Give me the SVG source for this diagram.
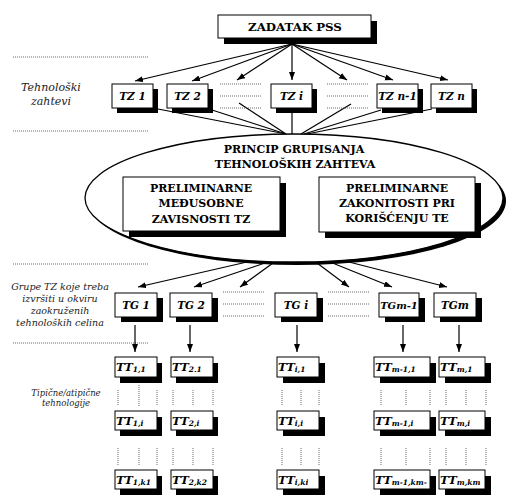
<svg xmlns="http://www.w3.org/2000/svg" width="508" height="495" viewBox="0 0 508 495">
<style>
.bx{fill:#fff;stroke:#000;stroke-width:1}
.sh{fill:#000}
.ln{stroke:#000;stroke-width:1.2;fill:none}
.ar{stroke:#000;stroke-width:1.2;fill:none;marker-end:url(#ah)}
.dot{stroke:#444;stroke-width:0.8;stroke-dasharray:1 1;fill:none}
text{font-family:'DejaVu Serif','Liberation Serif',serif}
.cap{font-weight:bold;font-size:11px;text-anchor:middle;fill:#000}
.lab{font-weight:bold;font-style:italic;font-size:10.5px;text-anchor:middle;fill:#000}
.tt{font-weight:bold;font-style:italic;font-size:11.5px;fill:#000}
.sub{font-size:7.5px}
.side{font-style:italic;text-anchor:middle;fill:#222}
</style>
<defs>
<marker id="ah" markerUnits="userSpaceOnUse" markerWidth="9" markerHeight="7" refX="8" refY="3" orient="auto">
<path d="M0,0 L8,3 L0,6 z" fill="#000"/>
</marker>
</defs>

<!-- side labels and guide lines -->
<g id="side">
<line class="dot" x1="13" y1="57" x2="148" y2="57"/>
<line class="dot" x1="13" y1="131" x2="148" y2="131"/>
<line class="dot" x1="13" y1="264" x2="148" y2="264"/>
<line class="dot" x1="13" y1="343" x2="148" y2="343"/>
<text class="side" style="font-size:11px" x="51" y="91">Tehnološki</text>
<text class="side" style="font-size:11px" x="51" y="105">zahtevi</text>
<text class="side" style="font-size:9.5px" x="60" y="290">Grupe TZ koje treba</text>
<text class="side" style="font-size:9.5px" x="60" y="302">izvršiti u okviru</text>
<text class="side" style="font-size:9.5px" x="60" y="314">zaokruženih</text>
<text class="side" style="font-size:9.5px" x="60" y="326">tehnoloških celina</text>
<text class="side" style="font-size:8.5px" x="66" y="396">Tipične/atipične</text>
<text class="side" style="font-size:8.5px" x="66" y="406">tehnologije</text>
</g>

<!-- connectors -->
<g id="connectors">
<line class="ar" x1="292" y1="44" x2="135" y2="81"/>
<line class="ar" x1="292" y1="44" x2="192" y2="81"/>
<line class="ar" x1="292" y1="44" x2="237" y2="80"/>
<line class="ar" x1="292" y1="44" x2="292" y2="80"/>
<line class="ar" x1="292" y1="44" x2="347" y2="80"/>
<line class="ar" x1="292" y1="44" x2="393" y2="80"/>
<line class="ar" x1="292" y1="44" x2="448" y2="80"/>

<line class="ln" x1="158" y1="109" x2="286" y2="134"/>
<line class="ln" x1="212" y1="110" x2="286" y2="134"/>
<line class="ln" x1="239" y1="103" x2="286" y2="134"/>
<line class="ln" x1="292" y1="112" x2="292" y2="134"/>
<line class="ln" x1="351" y1="104" x2="301" y2="134"/>
<line class="ln" x1="381" y1="110" x2="304" y2="134"/>
<line class="ln" x1="432" y1="109" x2="307" y2="134"/>

<line class="ar" x1="247" y1="262" x2="138" y2="287"/>
<line class="ar" x1="265" y1="263" x2="194" y2="287"/>
<line class="ar" x1="273" y1="263" x2="240" y2="287"/>
<line class="ar" x1="317" y1="263" x2="349" y2="287"/>
<line class="ar" x1="330" y1="262" x2="392" y2="287"/>
<line class="ar" x1="345" y1="261" x2="447" y2="287"/>

<line class="ar" x1="135" y1="325" x2="135" y2="352"/>
<line class="ar" x1="190" y1="325" x2="190" y2="352"/>
<line class="ar" x1="297" y1="325" x2="297" y2="352"/>
<line class="ar" x1="403" y1="325" x2="403" y2="352"/>
<line class="ar" x1="459" y1="325" x2="459" y2="352"/>

<!-- dotted placeholders -->
<path class="dot" d="M220,84 H262 M220,96 H262 M220,108 H262 M327,84 H368 M327,96 H368 M327,108 H368"/>
<path class="dot" d="M223,292 H264 M223,304 H264 M223,316 H264 M328,292 H369 M328,304 H369 M328,316 H369"/>
<path class="dot" d="M118,390 V406 M139,385 V406 M157,390 V406 M173,390 V406 M193,390 V406 M213,390 V406 M282,390 V406 M301,390 V406 M319,390 V406 M381,390 V406 M406,390 V406 M430,390 V406 M446,390 V406 M466,390 V406 M486,390 V406"/>
<path class="dot" d="M118,448 V465 M139,448 V465 M157,448 V465 M173,448 V465 M193,448 V465 M213,448 V465 M282,448 V465 M301,448 V465 M319,448 V465 M381,448 V465 M406,448 V465 M430,448 V465 M446,448 V465 M466,448 V465 M486,448 V465"/>
<path d="M287,215 L296,205 L296,210 L308,210 L308,205 L317,215 L308,225 L308,220 L296,220 L296,225 Z" fill="#fff" stroke="#000" stroke-width="1"/>
</g>

<g id="zadatak">
<rect class="sh" x="224" y="21" width="153" height="23"/>
<rect class="bx" x="218" y="15" width="153" height="23"/>
<text class="cap" style="font-size:11.8px" x="295" y="31">ZADATAK PSS</text>
</g>

<g id="tz1"><rect class="sh" x="117" y="89" width="41" height="24"/><rect class="bx" x="112" y="84" width="41" height="24"/><text class="lab" x="132.5" y="100">TZ 1</text></g>
<g id="tz2"><rect class="sh" x="172" y="89" width="41" height="24"/><rect class="bx" x="167" y="84" width="41" height="24"/><text class="lab" x="187.5" y="100">TZ 2</text></g>
<g id="tzi"><rect class="sh" x="276" y="89" width="41" height="24"/><rect class="bx" x="271" y="84" width="41" height="24"/><text class="lab" x="291.5" y="100">TZ i</text></g>
<g id="tzn1"><rect class="sh" x="382" y="89" width="41" height="24"/><rect class="bx" x="377" y="84" width="41" height="24"/><text class="lab" x="397.5" y="100">TZ n-1</text></g>
<g id="tzn"><rect class="sh" x="436" y="89" width="41" height="24"/><rect class="bx" x="431" y="84" width="41" height="24"/><text class="lab" x="451.5" y="100">TZ n</text></g>

<g id="princip">
<ellipse cx="297" cy="201" rx="209" ry="64" fill="#000"/>
<ellipse cx="294" cy="198" rx="209" ry="64" fill="#fff" stroke="#000" stroke-width="1.3"/>
<text class="cap" x="294" y="153">PRINCIP GRUPISANJA</text>
<text class="cap" x="295" y="168">TEHNOLOŠKIH ZAHTEVA</text>
</g>

<g id="medjusobne">
<rect class="sh" x="129" y="183" width="157" height="54"/>
<rect class="bx" x="123" y="177" width="157" height="54"/>
<text class="cap" x="201" y="192">PRELIMINARNE</text>
<text class="cap" x="201" y="207">MEĐUSOBNE</text>
<text class="cap" x="201" y="223">ZAVISNOSTI TZ</text>
</g>

<g id="zakonitosti">
<rect class="sh" x="325" y="183" width="156" height="55"/>
<rect class="bx" x="319" y="177" width="156" height="55"/>
<text class="cap" x="397" y="192">PRELIMINARNE</text>
<text class="cap" x="397" y="207">ZAKONITOSTI PRI</text>
<text class="cap" x="397" y="222">KORIŠĆENJU TE</text>
</g>

<g id="tg1"><rect class="sh" x="121" y="298" width="42" height="24"/><rect class="bx" x="115" y="293" width="42" height="24"/><text class="lab" x="136" y="309">TG 1</text></g>
<g id="tg2"><rect class="sh" x="176" y="298" width="42" height="24"/><rect class="bx" x="170" y="293" width="42" height="24"/><text class="lab" x="191" y="309">TG 2</text></g>
<g id="tgi"><rect class="sh" x="281" y="298" width="42" height="24"/><rect class="bx" x="275" y="293" width="42" height="24"/><text class="lab" x="296" y="309">TG i</text></g>
<g id="tgm1"><rect class="sh" x="385" y="298" width="40" height="24"/><rect class="bx" x="379" y="293" width="40" height="24"/><text class="lab" style="font-size:10px" x="399" y="309">TGm-1</text></g>
<g id="tgm"><rect class="sh" x="440" y="298" width="42" height="24"/><rect class="bx" x="434" y="293" width="42" height="24"/><text class="lab" x="455" y="309">TGm</text></g>

<g id="tt11"><rect class="sh" x="120" y="363" width="42" height="20"/><rect class="bx" x="115" y="357" width="42" height="20"/><text class="tt" x="116" y="371">TT<tspan class="sub" dy="1">1,1</tspan></text></g>
<g id="tt21"><rect class="sh" x="176" y="363" width="42" height="20"/><rect class="bx" x="171" y="357" width="42" height="20"/><text class="tt" x="172" y="371">TT<tspan class="sub" dy="1">2.1</tspan></text></g>
<g id="tti1"><rect class="sh" x="283" y="363" width="42" height="20"/><rect class="bx" x="277" y="357" width="42" height="20"/><text class="tt" x="278" y="371">TT<tspan class="sub" dy="1">i,1</tspan></text></g>
<g id="ttm11"><rect class="sh" x="380" y="363" width="56" height="20"/><rect class="bx" x="374" y="357" width="56" height="20"/><text class="tt" x="375" y="371">TT<tspan class="sub" dy="1">m-1,1</tspan></text></g>
<g id="ttm1"><rect class="sh" x="445" y="363" width="46" height="20"/><rect class="bx" x="439" y="357" width="46" height="20"/><text class="tt" x="440" y="371">TT<tspan class="sub" dy="1">m,1</tspan></text></g>

<g id="tt1i"><rect class="sh" x="120" y="417" width="42" height="19"/><rect class="bx" x="115" y="411" width="42" height="19"/><text class="tt" x="116" y="425">TT<tspan class="sub" dy="1">1,i</tspan></text></g>
<g id="tt2i"><rect class="sh" x="176" y="417" width="42" height="19"/><rect class="bx" x="171" y="411" width="42" height="19"/><text class="tt" x="172" y="425">TT<tspan class="sub" dy="1">2,i</tspan></text></g>
<g id="ttii"><rect class="sh" x="283" y="417" width="42" height="19"/><rect class="bx" x="277" y="411" width="42" height="19"/><text class="tt" x="278" y="425">TT<tspan class="sub" dy="1">i,i</tspan></text></g>
<g id="ttm1i"><rect class="sh" x="380" y="417" width="56" height="19"/><rect class="bx" x="374" y="411" width="56" height="19"/><text class="tt" x="375" y="425">TT<tspan class="sub" dy="1">m-1,i</tspan></text></g>
<g id="ttmi"><rect class="sh" x="445" y="417" width="46" height="19"/><rect class="bx" x="439" y="411" width="46" height="19"/><text class="tt" x="440" y="425">TT<tspan class="sub" dy="1">m,i</tspan></text></g>

<g id="tt1k"><rect class="sh" x="120" y="476" width="42" height="19"/><rect class="bx" x="115" y="470" width="42" height="19"/><text class="tt" x="116" y="484">TT<tspan class="sub" dy="1">1,k1</tspan></text></g>
<g id="tt2k"><rect class="sh" x="176" y="476" width="42" height="19"/><rect class="bx" x="171" y="470" width="42" height="19"/><text class="tt" x="172" y="484">TT<tspan class="sub" dy="1">2,k2</tspan></text></g>
<g id="ttik"><rect class="sh" x="283" y="476" width="42" height="19"/><rect class="bx" x="277" y="470" width="42" height="19"/><text class="tt" x="278" y="484">TT<tspan class="sub" dy="1">i,ki</tspan></text></g>
<g id="ttm1k"><rect class="sh" x="380" y="476" width="56" height="19"/><rect class="bx" x="374" y="470" width="56" height="19"/><text class="tt" x="375" y="484">TT<tspan class="sub" dy="1">m-1,km-</tspan></text></g>
<g id="ttmk"><rect class="sh" x="445" y="476" width="46" height="19"/><rect class="bx" x="439" y="470" width="46" height="19"/><text class="tt" x="440" y="484">TT<tspan class="sub" dy="1">m,km</tspan></text></g>
</svg>
